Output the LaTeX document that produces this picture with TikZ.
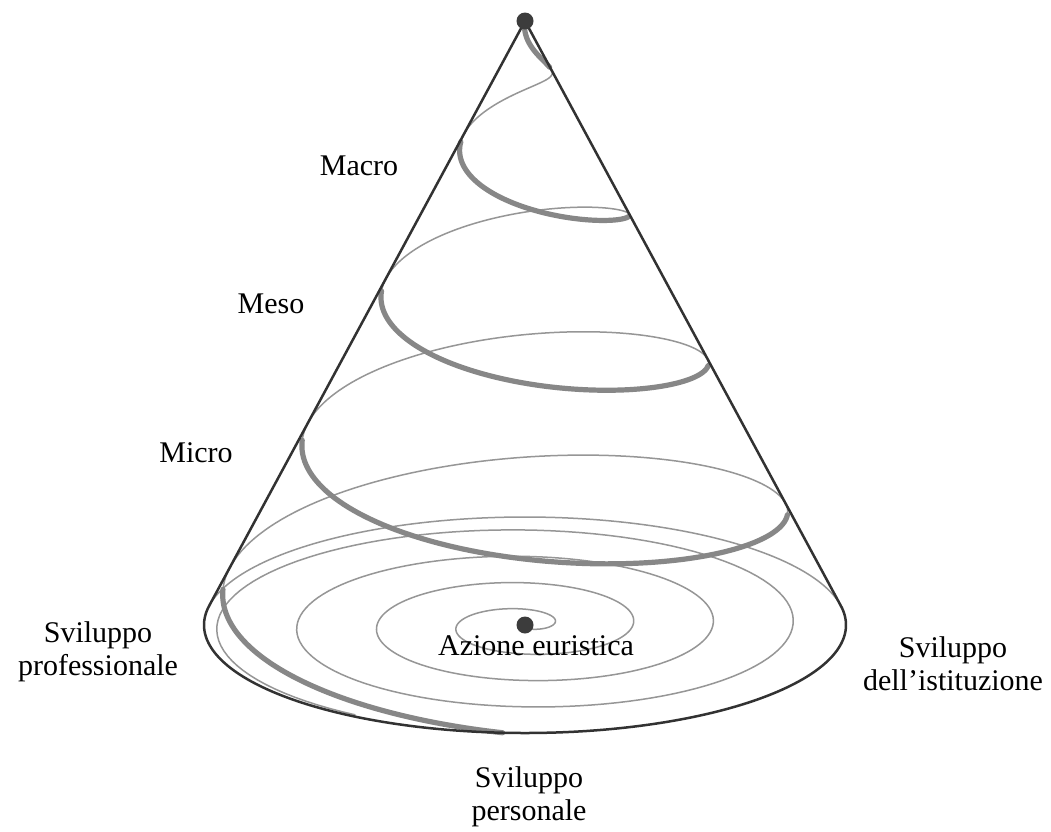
\documentclass[tikz,border=0pt]{standalone}
\usepackage{fontspec}
\setmainfont{Liberation Serif}
\definecolor{thickc}{RGB}{135,135,135}
\definecolor{thinc}{RGB}{150,150,150}
\definecolor{darkc}{RGB}{50,50,50}
\definecolor{dotc}{RGB}{60,60,60}
\begin{document}
\begin{tikzpicture}[x=1pt,y=-1pt,
  declare function={
    hs(\u)=\u/1457.5;
    hx(\u)=525+hs(\u)*321*cos(111.5-\u);
    hy(\u)=21+hs(\u)*604+hs(\u)*108*sin(111.5-\u);
    br(\t)=28+0.2222*\t;
    bx(\t)=525+br(\t)*cos(\t);
    by(\t)=625-0.33*br(\t)*sin(\t);
  },
  thinline/.style={draw=thinc,line width=1.5pt,line cap=round,line join=round},
  thickline/.style={draw=thickc,line width=5.2pt,line cap=round,line join=round},
  outline/.style={draw=darkc,line width=2.5pt,line cap=round,line join=round},
  dotnode/.style={circle,fill=dotc,inner sep=0pt,minimum size=17pt},
  lab/.style={font=\fontsize{30}{33}\selectfont,text=black,inner sep=0pt,align=center,anchor=base}
]
\useasboundingbox (0,0) rectangle (1051,831);
\fill[white] (0,0) rectangle (1051,831);

\coordinate (apex) at (525,21);
\coordinate (center) at (525,625);
\coordinate (tl) at (209.2,605.7);
\coordinate (tr) at (840.8,605.7);

% planar spiral on the base
\draw[thinline] plot[domain=-126:1318,samples=500] ({bx(\x)},{by(\x)});
% back half of the base ellipse
\draw[thinline] plot[domain=190.3:349.7,samples=100] ({525+321*cos(\x)},{625+108*sin(\x)});

% back halves of the helix
\foreach \a/\b in {111.5/291.5,471.5/651.5,831.5/1011.5,1191.5/1371.5}
  \draw[thinline] plot[domain=\a:\b,samples=90] ({hx(\x)},{hy(\x)});

% front halves of the helix
\foreach \a/\b in {0/111.5,291.5/471.5,651.5/831.5,1011.5/1191.5,1371.5/1457.5}
  \draw[thickline] plot[domain=\a:\b,samples=90] ({hx(\x)},{hy(\x)});

% cone outline
\draw[outline] plot[domain=-10.3:190.3,samples=150] ({525+321*cos(\x)},{625+108*sin(\x)});
\draw[outline] (apex) -- (tl);
\draw[outline] (apex) -- (tr);

\node[dotnode] (apexdot) at (apex) {};
\node[dotnode] (centerdot) at (center) {};

% labels (anchor base = baseline of the last line)
\node[lab] (macro) at (359,175) {Macro};
\node[lab] (meso) at (271,313) {Meso};
\node[lab] (micro) at (196,462) {Micro};
\node[lab] (prof) at (98,675) {Sviluppo\\professionale};
\node[lab] (ist) at (953,690) {Sviluppo\\dell’istituzione};
\node[lab] (pers) at (529,820) {Sviluppo\\personale};
\node[lab] (azione) at (536,655) {Azione euristica};
\end{tikzpicture}
\end{document}
